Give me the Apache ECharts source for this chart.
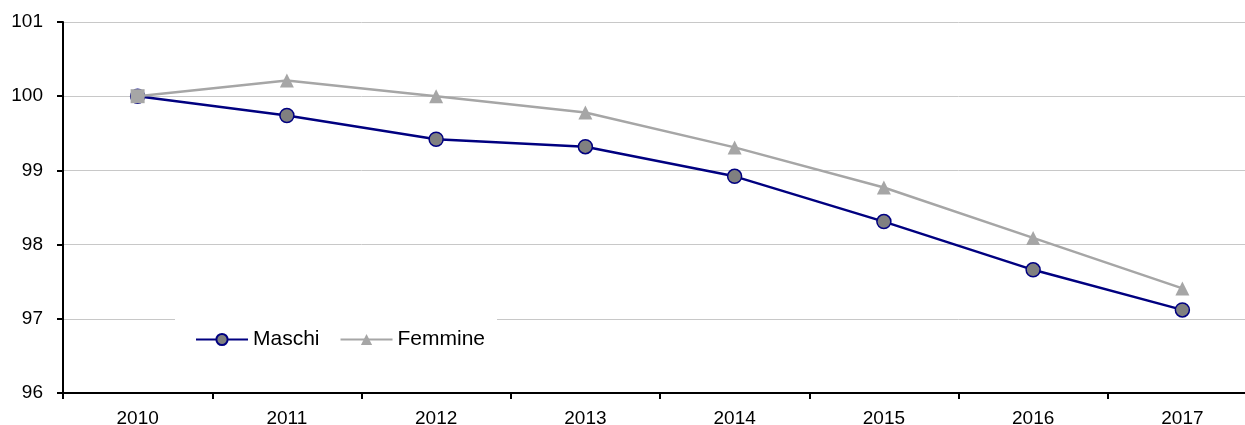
<!DOCTYPE html>
<html>
<head>
<meta charset="utf-8">
<script src="https://cdn.jsdelivr.net/npm/echarts@6/dist/echarts.min.js"></script>
<style>html,body{margin:0;padding:0;background:#fff;overflow:hidden;width:1245px;height:425px;}#c{width:1257px;height:425px;}</style>
</head>
<body>
<div id="c"></div>
<script>
var categories = ['2010','2011','2012','2013','2014','2015','2016','2017'];
var maschi = [100, 99.74, 99.42, 99.32, 98.92, 98.31, 97.66, 97.12];
var femmine = [100, 100.21, 100.0, 99.78, 99.31, 98.77, 98.09, 97.41];
var yMin = 96, yMax = 101, yStep = 1;

var chart = echarts.init(document.getElementById('c'));
var femData = femmine.map(function(v, i){
  return i === 0 ? {value: v, symbol: 'rect', symbolSize: 14} : v;
});
chart.setOption({
  animation: false,
  textStyle: {fontFamily: 'Liberation Sans, Arial, sans-serif'},
  grid: {left: 63, top: 22, right: 0, bottom: 32, outerBoundsMode: 'none', containLabel: false},
  legend: {
    left: 175, top: 295,
    padding: [34, 12, 10, 20],
    backgroundColor: '#ffffff',
    itemWidth: 52, itemHeight: 14, itemGap: 20,
    textStyle: {fontSize: 21, color: '#000', padding: [0,0,0,0]},
    data: ['Maschi', 'Femmine']
  },
  xAxis: {
    type: 'category', data: categories, boundaryGap: true,
    axisLine: {lineStyle: {color: '#000', width: 2}},
    axisTick: {show: true, length: 6, inside: false, lineStyle: {color: '#000', width: 2}},
    axisLabel: {fontSize: 19, color: '#000', margin: 16},
    splitLine: {show: false}
  },
  yAxis: {
    type: 'value', min: yMin, max: yMax, interval: yStep,
    axisLine: {show: true, lineStyle: {color: '#000', width: 2}},
    axisTick: {show: true, length: 6, lineStyle: {color: '#000', width: 2}},
    axisLabel: {fontSize: 19, color: '#000', margin: 20},
    splitLine: {lineStyle: {color: '#c8c8c8', width: 1}}
  },
  series: [
    {
      name: 'Maschi', type: 'line', data: maschi,
      symbol: 'circle', symbolSize: 14,
      lineStyle: {color: '#000080', width: 2.5},
      itemStyle: {color: '#808080', borderColor: '#000080', borderWidth: 1.5},
      z: 2
    },
    {
      name: 'Femmine', type: 'line', data: femData,
      symbol: 'triangle', symbolSize: 14,
      lineStyle: {color: '#a6a6a6', width: 2.5},
      itemStyle: {color: '#a6a6a6', borderWidth: 0},
      z: 3
    }
  ]
});
</script>
</body>
</html>
